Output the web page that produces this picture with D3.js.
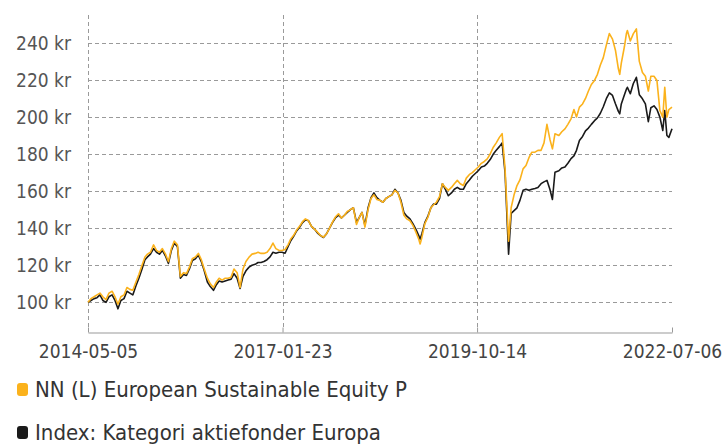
<!DOCTYPE html>
<html>
<head>
<meta charset="utf-8">
<script src="https://cdn.jsdelivr.net/npm/d3@7"></script>
<style>
  body { margin: 0; background: #fff; }
  text { font-family: "DejaVu Sans Condensed", "DejaVu Sans", sans-serif; font-stretch: condensed; }
</style>
</head>
<body>
<svg id="chart" width="727" height="446"></svg>
<script>
// values, roughly twice a month
const dates = [
  "2014-05-05","2014-05-20","2014-06-05","2014-06-20","2014-07-05","2014-07-20","2014-08-05","2014-08-20",
  "2014-09-05","2014-09-20","2014-10-05","2014-10-20","2014-11-05","2014-11-20","2014-12-05","2014-12-20",
  "2015-01-05","2015-01-20","2015-02-05","2015-02-20","2015-03-05","2015-03-20","2015-04-05","2015-04-20",
  "2015-05-05","2015-05-20","2015-06-05","2015-06-20","2015-07-05","2015-07-20","2015-08-05","2015-08-20",
  "2015-09-05","2015-09-20","2015-10-05","2015-10-20","2015-11-05","2015-11-20","2015-12-05","2015-12-20",
  "2016-01-05","2016-01-20","2016-02-05","2016-02-20","2016-03-05","2016-03-20","2016-04-05","2016-04-20",
  "2016-05-05","2016-05-20","2016-06-05","2016-06-20","2016-07-05","2016-07-20","2016-08-05","2016-08-20",
  "2016-09-05","2016-09-20","2016-10-05","2016-10-20","2016-11-05","2016-11-20","2016-12-05","2016-12-20",
  "2017-01-05","2017-01-20","2017-02-05","2017-02-20","2017-03-05","2017-03-20","2017-04-05","2017-04-20",
  "2017-05-05","2017-05-20","2017-06-05","2017-06-20","2017-07-05","2017-07-20","2017-08-05","2017-08-20",
  "2017-09-05","2017-09-20","2017-10-05","2017-10-20","2017-11-05","2017-11-20","2017-12-05","2017-12-20",
  "2018-01-05","2018-01-20","2018-02-05","2018-02-20","2018-03-05","2018-03-20","2018-04-05","2018-04-20",
  "2018-05-05","2018-05-20","2018-06-05","2018-06-20","2018-07-05","2018-07-20","2018-08-05","2018-08-20",
  "2018-09-05","2018-09-20","2018-10-05","2018-10-20","2018-11-05","2018-11-20","2018-12-05","2018-12-20",
  "2018-12-27","2019-01-05","2019-01-20","2019-02-05","2019-02-20","2019-03-05","2019-03-20","2019-04-05",
  "2019-04-20","2019-05-05","2019-05-20","2019-06-05","2019-06-20","2019-07-05","2019-07-20","2019-08-05",
  "2019-08-20","2019-09-05","2019-09-20","2019-10-05","2019-10-20","2019-11-05","2019-11-20","2019-12-05",
  "2019-12-20","2020-01-05","2020-01-20","2020-02-05","2020-02-19","2020-03-05","2020-03-23","2020-04-05",
  "2020-04-20","2020-05-05","2020-05-20","2020-06-05","2020-06-20","2020-07-05","2020-07-20","2020-08-05",
  "2020-08-20","2020-09-05","2020-09-20","2020-10-05","2020-10-20","2020-11-02","2020-11-15","2020-12-05",
  "2020-12-20","2021-01-05","2021-01-20","2021-02-05","2021-02-20","2021-03-05","2021-03-20","2021-04-05",
  "2021-04-20","2021-05-05","2021-05-20","2021-06-05","2021-06-20","2021-07-05","2021-07-20","2021-08-05",
  "2021-08-20","2021-09-05","2021-09-20","2021-10-05","2021-10-12","2021-10-20","2021-11-05","2021-11-15",
  "2021-11-20","2021-12-05","2021-12-20","2022-01-05","2022-01-20","2022-02-05","2022-02-20","2022-03-07",
  "2022-03-20","2022-04-05","2022-04-20","2022-05-05","2022-05-20","2022-05-30","2022-06-10","2022-06-20",
  "2022-07-06"
]

const fund = [
  100,102,103,104,105,103,101.5,105,
  106,103,99,103,104,108,107,106.5,
  111,115,120,124.5,126,127,131,128,
  127,129,126,122,129,133,131,114,
  116,115.5,119,123.5,124.5,126.4,123,118,
  113,110,108,111,113,112,113,113,
  113.6,118,116,108,118,122,124.4,126,
  126.4,127,126.4,126.4,127,129,132,129,
  128,128,128.5,131,134,136,139,141,
  143.5,145,144,141,139.5,138,136,135.2,
  137,140,143.3,146,147.8,145.5,147,149,
  150,151,142,146,148.5,140.6,150,156,
  158,155.5,155,154,156,157,158,160.4,
  159,154,147,145,144,141.5,138,134,
  131.5,135,142.4,146,151,152.5,154,157,
  164,162,160.4,162,164,165.8,164,163,
  167,169,170,171.5,173,175,176,177.4,
  180,183.7,186,189,191,172,133,151,
  158,163,166,172,173.8,178,181,181,
  182,182,186,196,188,182.8,190.9,190,
  192,193.6,196,199,204,200,205.3,207,
  210,214,217.5,219.7,223,228,232,239,
  245,242,236,226,223,229,238,245,
  246.6,241,244.8,247.5,230,224,222,214,
  222,222,219.7,203.5,199.9,216,199.9,204,
  205.3
]

const index = [
  100,101,102,102.5,104,101,100,103,
  104,101,96.5,101,102,106,105,104,
  109,113,118,123,124.5,126,129,127,
  126,128,125,121,128,132,130,113,
  115,114.5,118,122.5,123.5,125.5,122,117,
  111,108.5,106.5,109.5,111.5,111,111.5,112,
  112.5,115.5,113,107.5,114,117,119,120,
  120.5,121.5,121.5,122,123,124.5,127,126.5,
  127,127,126.5,130,133,135.5,138.5,140.5,
  143,144.5,144,141,139.5,137.5,136,135,
  137,140,143,145.5,147,145.5,147,148.5,
  150,151,143,146,148.5,141.5,151,156.5,
  159,156.5,155,154,156,157,158,161,
  159,155,148.5,146.5,145,142.5,139.5,136,
  134,137,143,146.5,151,153,153,156,
  164,161,157.5,159,161,162,161,161,
  164,166,168,169.5,171,173,173.5,175,
  177,180,182,184,186,170,126,148,
  149.5,151,155,160.4,161,160.4,161,161.4,
  162,164,165,165.8,161,155.5,170.2,171,
  172.5,173,175,177.5,179,182,187.3,189.5,
  192.5,194,196,198,199.5,202,205.5,210,
  213,211.6,207.1,203,201.7,207,212,215,
  216,212.5,217.9,221.4,212,209.8,207.1,197.5,
  205,206,204,199.9,192.7,203.5,190,189,
  193.6
]

const yTicks = [100, 120, 140, 160, 180, 200, 220, 240]
const xTicks = ["2014-05-05", "2017-01-23", "2019-10-14", "2022-07-06"]

const seriesNames = ["NN (L) European Sustainable Equity P", "Index: Kategori aktiefonder Europa"]
const seriesColors = ["#fbb21c", "#1a1a1a"]

const parse = d3.timeParse("%Y-%m-%d")
const fmt = d3.timeFormat("%Y-%m-%d")

const plotLeft = 88, plotRight = 672, plotTop = 15, plotBottom = 332

const svg = d3.select("#chart")

const x = d3.scaleTime()
  .domain([parse(xTicks[0]), parse(xTicks[xTicks.length - 1])])
  .range([plotLeft, plotRight])

const y = d3.scaleLinear()
  .domain([84, 255])
  .range([plotBottom, plotTop])

// horizontal grid
svg.append("g")
  .selectAll("line")
  .data(yTicks)
  .join("line")
  .attr("x1", plotLeft).attr("x2", plotRight)
  .attr("y1", d => Math.round(y(d)) + 0.5).attr("y2", d => Math.round(y(d)) + 0.5)
  .attr("stroke", "#9a9a9a")
  .attr("stroke-dasharray", "4,3")

// vertical grid (not at the right edge)
svg.append("g")
  .selectAll("line")
  .data(xTicks.slice(0, 3))
  .join("line")
  .attr("x1", d => Math.round(x(parse(d))) + 0.5).attr("x2", d => Math.round(x(parse(d))) + 0.5)
  .attr("y1", plotTop).attr("y2", plotBottom - 4)
  .attr("stroke", "#9a9a9a")
  .attr("stroke-dasharray", "4,3")

// y labels
svg.append("g")
  .selectAll("text")
  .data(yTicks)
  .join("text")
  .attr("x", 71)
  .attr("y", d => y(d) + 7)
  .attr("text-anchor", "end")
  .attr("font-size", 19)
  .attr("fill", "#555")
  .text(d => d + " kr")

// x axis
const xAxis = d3.axisBottom(x)
  .tickValues(xTicks.map(parse))
  .tickFormat(fmt)
  .tickSize(-5)
  .tickSizeOuter(0)

const gx = svg.append("g")
  .attr("transform", "translate(0," + (plotBottom + 0.5) + ")")
  .call(xAxis)
gx.select(".domain").attr("stroke", "#999")
gx.selectAll(".tick line").attr("stroke", "#999")
gx.selectAll(".tick text")
  .attr("y", 12)
  .attr("dy", "0.71em")
  .attr("font-size", 19)
  .attr("font-family", null)
  .attr("fill", "#444")

const line = d3.line()
  .x((d, i) => x(parse(dates[i])))
  .y(d => y(d))

// index first, fund on top
svg.append("path")
  .datum(index)
  .attr("fill", "none")
  .attr("stroke", seriesColors[1])
  .attr("stroke-width", 1.6)
  .attr("stroke-linejoin", "round")
  .attr("d", line)

svg.append("path")
  .datum(fund)
  .attr("fill", "none")
  .attr("stroke", seriesColors[0])
  .attr("stroke-width", 1.6)
  .attr("stroke-linejoin", "round")
  .attr("d", line)

// legend
const legend = svg.append("g")
  .selectAll("g")
  .data(seriesNames)
  .join("g")
  .attr("transform", (d, i) => "translate(17," + (383 + i * 43) + ")")

legend.append("rect")
  .attr("width", 11).attr("height", 13)
  .attr("rx", 3)
  .attr("fill", (d, i) => seriesColors[i])

legend.append("text")
  .attr("x", 18)
  .attr("y", 14)
  .attr("font-size", 22)
  .attr("fill", "#333")
  .text(d => d)
</script>
</body>
</html>
